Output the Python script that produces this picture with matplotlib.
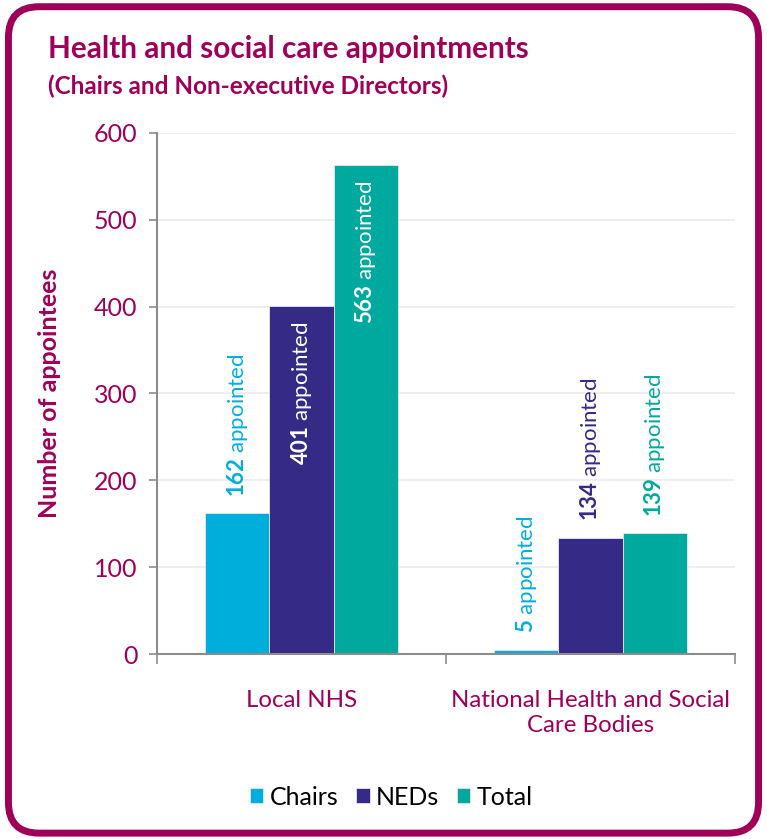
import numpy as np
import matplotlib.pyplot as plt
from matplotlib.patches import FancyBboxPatch

groups = ['Local NHS', 'National Health and Social\nCare Bodies']
series = ['Chairs', 'NEDs', 'Total']
chairs = [162, 5]
neds = [401, 134]
total = [563, 139]
yticks = [0, 100, 200, 300, 400, 500, 600]

colours = ['#00AEDB', '#352A86', '#00A99D']
plum = '#9E0059'

plt.rcParams['font.family'] = ['Lato', 'DejaVu Sans']
plt.rcParams['mathtext.fontset'] = 'custom'
plt.rcParams['mathtext.rm'] = 'Lato'
plt.rcParams['mathtext.bf'] = 'Lato:bold'

fig = plt.figure(figsize=(7.67, 8.39), dpi=100)

# rounded frame round the whole panel, kept behind the axes
frame = FancyBboxPatch((0.011, 0.007), 0.978, 0.985,
                       boxstyle='round,pad=0,rounding_size=0.04',
                       transform=fig.transFigure, facecolor='white',
                       edgecolor=plum, linewidth=5, mutation_aspect=767 / 839,
                       zorder=-1)
fig.patches.append(frame)

fig.text(0.063, 0.942, 'Health and social care appointments', color=plum,
         fontsize=21.4, fontweight='bold', va='center', ha='left')
fig.text(0.063, 0.897, '(Chairs and Non-executive Directors)', color=plum,
         fontsize=17.5, fontweight='bold', va='center', ha='left')

ax = fig.add_axes([0.2047, 0.2205, 0.7536, 0.621])
ax.set_facecolor('none')

x = np.arange(len(groups))
width = 0.222
values = [chairs, neds, total]
for i, (name, vals, col) in enumerate(zip(series, values, colours)):
    pos = x + (i - 1) * width
    ax.bar(pos, vals, width, color=col, edgecolor='#E6E6F0', linewidth=0.6,
           label=name, zorder=3)
    for xp, v in zip(pos, vals):
        label = r'$\mathbf{%d}$ appointed' % v
        if v > 300:
            ax.annotate(label, (xp, v), xytext=(0, -11), textcoords='offset points',
                        rotation=90, ha='center', va='top', color='white',
                        fontsize=16, zorder=4)
        else:
            ax.annotate(label, (xp, v), xytext=(0, 12), textcoords='offset points',
                        rotation=90, ha='center', va='bottom', color=col,
                        fontsize=16, zorder=4)

ax.set_xlim(-0.5, 1.5)
ax.set_ylim(0, 600)
ax.set_yticks(yticks)
ax.set_xticks(x)
ax.set_xticklabels(groups)
ax.set_xticks([-0.5, 0.5, 1.5], minor=True)
ax.tick_params(axis='x', which='major', length=0, pad=26, labelsize=17.3, labelcolor=plum)
ax.tick_params(axis='x', which='minor', length=7, color='#8C8C8C', width=1.2)
ax.tick_params(axis='y', length=6, color='#8C8C8C', width=1.2, pad=8,
               labelsize=18, labelcolor=plum)
ax.grid(axis='y', color='#EBEBEB', linewidth=1.2, zorder=0)
for side in ['top', 'right']:
    ax.spines[side].set_visible(False)
for side in ['left', 'bottom']:
    ax.spines[side].set_color('#8C8C8C')
    ax.spines[side].set_linewidth(1.5)
    ax.spines[side].set_zorder(5)

ax.set_ylabel('Number of appointees', color=plum, fontsize=18, fontweight='bold',
              labelpad=24)

fig.legend(*ax.get_legend_handles_labels(), loc='center',
           bbox_to_anchor=(0.510, 0.050), ncol=3, frameon=False,
           fontsize=18, handlelength=0.55, handleheight=0.55, handletextpad=0.25,
           columnspacing=0.7)

fig.savefig('out.png', dpi=100)
